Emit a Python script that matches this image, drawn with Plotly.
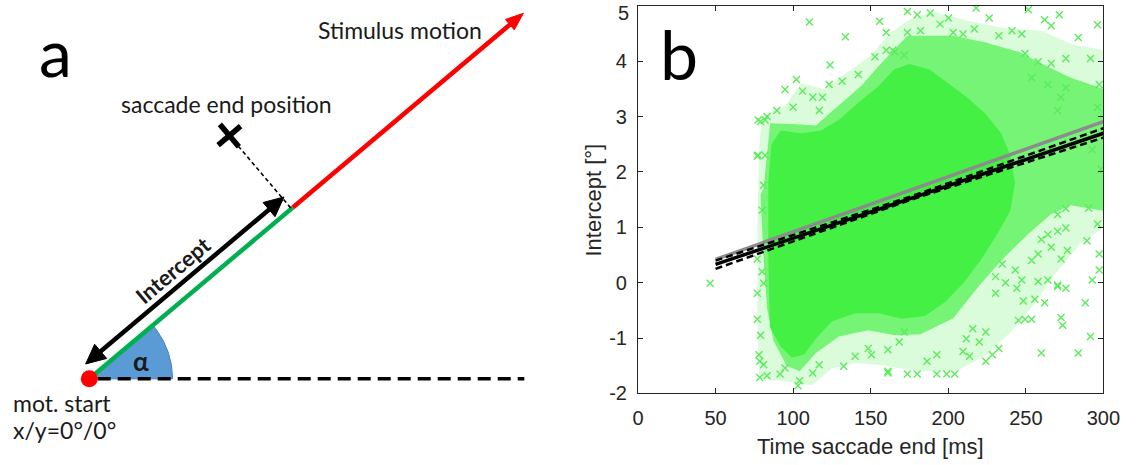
import math
import plotly.graph_objects as go

# ---------------- Panel b data ----------------
X_TICKS = [0, 50, 100, 150, 200, 250, 300]
X_TICK_LABELS = ["0", "50", "100", "150", "200", "250", "300"]
Y_TICKS = [-2, -1, 0, 1, 2, 3, 4, 5]
Y_TICK_LABELS = ["-2", "-1", "0", "1", "2", "3", "4", "5"]

# regression lines
TIME_GRAY = [50, 300]
INTERCEPT_GRAY = [0.42, 2.91]
TIME_FIT = [50, 175, 300]
INTERCEPT_FIT = [0.33, 1.515, 2.70]
INTERCEPT_CI_LOW = [0.25, 1.49, 2.62]
INTERCEPT_CI_HIGH = [0.40, 1.55, 2.79]

# outline of the densely packed core of the point cloud
CORE_TIME = [85, 84, 84, 86, 92, 105, 118, 130, 142, 155, 165, 175, 188, 200, 212, 224,
             234, 240, 243, 240, 232, 222, 210, 198, 185, 170, 155, 140, 125, 115, 107,
             99, 92]
CORE_INTERCEPT = [-0.8, 0.5, 1.8, 2.5, 2.75, 2.7, 2.75, 2.95, 3.25, 3.55, 3.85, 3.95,
                  3.85, 3.6, 3.35, 3.05, 2.7, 2.3, 1.8, 1.3, 0.9, 0.45, 0.0, -0.35, -0.6,
                  -0.65, -0.55, -0.55, -0.7, -1.0, -1.3, -1.35, -1.15]

# outline of the medium-density halo of the point cloud
MID_TIME = [87.4, 83.2, 81.0, 79.0, 81.0, 83.2, 85.2, 102.1, 114.7, 123.2, 133.7, 144.2,
            154.7, 165.4, 173.7, 182.1, 203.2, 224.2, 245.3, 266.4, 279, 300, 300, 279,
            266.4, 251.6, 234.8, 220.0, 203.2, 182.1, 165.4, 148.4, 129.5, 114.7, 104.2, 95.8]
MID_INTERCEPT = [-1.05, -0.46, 0.42, 1.59, 1.7, 2.35, 2.88, 2.86, 2.84, 3.05, 3.3, 3.56,
                 3.9, 4.22, 4.46, 4.46, 4.46, 4.34, 4.17, 3.87, 3.7, 3.5, 1.3, 1.4,
                 1.24, 0.88, 0.42, -0.05, -0.64, -0.93, -0.95, -0.86, -0.97, -1.27, -1.6, -1.5]

# outline of the sparse outskirts of the point cloud
OUTER_TIME = [78, 77, 77, 78, 80, 95, 105, 120, 135, 150, 162, 175, 190, 210, 235, 260,
              280, 300, 300, 285, 270, 255, 240, 225, 205, 180, 160, 140, 125, 112, 100, 85]
OUTER_INTERCEPT = [-1.7, -0.5, 1.0, 2.4, 3.0, 3.2, 3.6, 3.5, 3.8, 4.1, 4.5, 4.75, 4.9,
                   4.75, 4.6, 4.55, 4.3, 4.2, 1.0, 0.7, 0.2, -0.4, -0.9, -1.3, -1.6, -1.6,
                   -1.5, -1.45, -1.55, -1.85, -1.8, -1.75]

# individually visible (sparse) points
SCATTER_TIME = [
    110.5, 133.7, 155.8, 160.0, 123.8, 102.1, 106.1, 94.8, 79.0, 83.2, 76.8, 80.9, 152.7,
    160.0, 165.4, 142.0, 123.2, 131.6, 112.7, 118.9, 116.9, 89.5, 100.0,
    173.7, 180.0, 188.4, 200.1, 217.9, 226.4, 251.6, 262.1, 266.4, 271.6, 173.7, 182.1,
    194.7, 203.2, 209.5, 216.8, 232.6, 241.1, 247.4, 164.2, 171.6, 249.5, 257.9, 266.4,
    275.8, 253.7, 264.2, 272.6, 270.5, 275.8,
    296.2, 283.8, 291.7, 297.3, 296.2, 292.8, 298.5, 290.5, 296.2, 289.4, 297.3, 297.3,
    292.8, 288.3, 291.7, 283.8,
    260.0, 272.7, 273.7, 232.6, 228.4, 224.2, 173.7, 180.0, 192.6, 199.0, 204.2, 248.4,
    255.8, 262.1, 245.2, 249.5, 253.7, 270.5, 275.8, 236.9, 244.2, 230.5, 257.9, 264.2,
    270.5, 253.7, 257.9, 266.4, 272.7, 276.8, 270.5, 275.8, 260.0, 264.2, 270.5, 275.8,
    213.7, 209.5, 220.0, 224.2, 161.1, 186.3, 192.6, 215.8, 211.6, 230.5, 234.8, 243.2,
    247.4,
    103.1, 104.2, 81.0, 77.9, 79.0, 76.9, 76.9, 81.0, 80.0, 76.9, 80.0, 83.2, 91.6, 94.7,
    112.6, 116.8, 132.6, 140.0, 148.4, 161.1, 161.1, 150.5, 168.4, 171.6,
    77.4, 81.9, 77.4, 81.9, 78.5, 78.5,
    46.5,
]
SCATTER_INTERCEPT = [
    4.71, 4.44, 4.72, 4.52, 3.93, 3.67, 3.46, 3.49, 2.91, 3.0, 2.29, 1.76, 4.08,
    4.2, 4.17, 3.76, 3.58, 3.64, 3.35, 3.35, 3.11, 3.11, 3.17,
    4.9, 4.84, 4.87, 4.78, 4.96, 4.78, 4.93, 4.75, 4.64, 4.84, 4.52, 4.55,
    4.67, 4.52, 4.49, 4.58, 4.46, 4.55, 4.49, 4.2, 4.11, 4.14, 3.99, 3.96,
    4.05, 3.7, 3.58, 3.35, 3.11, 3.52,
    4.66, 4.43, 4.05, 3.58, 3.17, 2.40, 2.05, 1.35, 1.06, 0.76, 0.52, 0.23,
    0.05, -0.36, -0.97, -1.27,
    -1.27, -0.63, -0.77, -1.19, -1.30, -1.42, -1.65, -1.65, -1.65, -1.65, -1.65, -0.33,
    -0.30, -0.36, -0.68, -0.66, -0.66, -0.07, -0.10, 0.0, -0.10, -0.19, 0.02, 0.05,
    -0.04, 0.40, 0.52, 0.64, 0.43, 0.58, 0.93, 0.99, 0.78, 0.87, 1.23, 1.34,
    -1.33, -1.24, -1.07, -0.89, -1.60, -1.42, -1.30, -0.83, -1.01, 0.11, 0.34, 0.23,
    0.05,
    -1.86, -1.77, -1.48, -1.30, -0.95, -0.66, -0.19, -0.01, 0.20, 0.43, 1.31, -1.68, -1.65, -1.54,
    -1.63, -1.48, -1.51, -1.33, -1.19, -1.63, -1.21, -1.30, -1.07, -0.89,
    2.30, 2.30, 2.94, 2.94, -1.71, -1.42,
    -0.01,
]

# ---------------- Panel a (schematic) geometry ----------------
ALPHA_DEG = 40.2          # stimulus motion direction
INTERCEPT_LEN = 272       # projected saccade end along motion
STIM_LEN = 580            # length of stimulus motion arrow
SACC_ALONG = 270          # saccade end: along-motion component
SACC_PERP = 98            # saccade end: perpendicular component
ARROW_PERP = 14           # offset of the Intercept double arrow
ARROW_START = 7
WEDGE_R = 85
BASELINE_START, BASELINE_END = 8.6, 444

GREEN_SAT = "#45f045"
MARKER_GREEN = "#5aec5a"
AXIS_COL = "#262626"

a = math.radians(ALPHA_DEG)
DX, DY = math.cos(a), math.sin(a)
NX, NY = -math.sin(a), math.cos(a)


def pt(along, perp=0.0):
    return (along * DX + perp * NX, along * DY + perp * NY)


def head(tip_along, perp, back, length=18, half=8.5):
    tx, ty = pt(tip_along, perp)
    bx, by = pt(tip_along + back * length, perp)
    p1 = (bx + half * NX, by + half * NY)
    p2 = (bx - half * NX, by - half * NY)
    return [tx, p1[0], p2[0], tx], [ty, p1[1], p2[1], ty]


fig = go.Figure()
A = dict(xaxis="x2", yaxis="y2", showlegend=False, hoverinfo="skip")

# blue angle wedge
arc = [i * ALPHA_DEG / 40 for i in range(41)]
wx = [0] + [WEDGE_R * math.cos(math.radians(t)) for t in arc] + [0]
wy = [0] + [WEDGE_R * math.sin(math.radians(t)) for t in arc] + [0]
fig.add_trace(go.Scatter(x=wx, y=wy, mode="lines", fill="toself", fillcolor="#5B9BD5",
                         line=dict(color="#4A7EBB", width=1), **A))
# dashed horizontal baseline
fig.add_trace(go.Scatter(x=[BASELINE_START, BASELINE_END], y=[0, 0], mode="lines",
                         line=dict(color="black", width=3.5, dash="13px,7px"), **A))
# green intercept segment
g0, g1 = pt(0), pt(INTERCEPT_LEN)
fig.add_trace(go.Scatter(x=[g0[0], g1[0]], y=[g0[1], g1[1]], mode="lines",
                         line=dict(color="#00B050", width=4.5), **A))
# red stimulus motion
r0, r1 = pt(INTERCEPT_LEN), pt(STIM_LEN - 14)
fig.add_trace(go.Scatter(x=[r0[0], r1[0]], y=[r0[1], r1[1]], mode="lines",
                         line=dict(color="#FF0000", width=4.5), **A))
hx, hy = head(STIM_LEN, 0, -1, length=18, half=7)
fig.add_trace(go.Scatter(x=hx, y=hy, mode="lines", fill="toself", fillcolor="#FF0000",
                         line=dict(color="#FF0000", width=1), **A))
# red dot at motion start
fig.add_trace(go.Scatter(x=[0], y=[0], mode="markers",
                         marker=dict(color="#FF0000", size=17), **A))
# black double arrow (Intercept)
b0, b1 = pt(ARROW_START + 15, ARROW_PERP), pt(SACC_ALONG + 2 - 15, ARROW_PERP)
fig.add_trace(go.Scatter(x=[b0[0], b1[0]], y=[b0[1], b1[1]], mode="lines",
                         line=dict(color="black", width=4.5), **A))
for tip, back in ((ARROW_START, 1), (SACC_ALONG + 2, -1)):
    hx, hy = head(tip, ARROW_PERP, back, length=20, half=9.5)
    fig.add_trace(go.Scatter(x=hx, y=hy, mode="lines", fill="toself", fillcolor="black",
                             line=dict(color="black", width=1), **A))
# thin dashed projection line
s0, s1 = pt(SACC_ALONG, SACC_PERP - 7), pt(SACC_ALONG, 0)
fig.add_trace(go.Scatter(x=[s0[0], s1[0]], y=[s0[1], s1[1]], mode="lines",
                         line=dict(color="black", width=1.6, dash="4px,3px"), **A))
# saccade end cross
for da, dp in ((15, 0), (0, 15)):
    c0, c1 = pt(SACC_ALONG - da, SACC_PERP - dp), pt(SACC_ALONG + da, SACC_PERP + dp)
    fig.add_trace(go.Scatter(x=[c0[0], c1[0]], y=[c0[1], c1[1]], mode="lines",
                             line=dict(color="black", width=5.5), **A))

# ---------------- Panel b traces ----------------
B = dict(xaxis="x", yaxis="y", showlegend=False, hoverinfo="skip")
for tx, ty, col in ((OUTER_TIME, OUTER_INTERCEPT, "rgba(69,240,69,0.2)"),
                    (MID_TIME, MID_INTERCEPT, "rgba(69,240,69,0.68)"),
                    (CORE_TIME, CORE_INTERCEPT, GREEN_SAT)):
    fig.add_trace(go.Scatter(x=tx, y=ty, mode="lines", fill="toself", fillcolor=col,
                             line=dict(width=0, color="rgba(0,0,0,0)"), **B))
fig.add_trace(go.Scatter(x=SCATTER_TIME, y=SCATTER_INTERCEPT, mode="markers",
                         marker=dict(symbol="x-thin", size=7,
                                     line=dict(color=MARKER_GREEN, width=1.4)), **B))
fig.add_trace(go.Scatter(x=TIME_GRAY, y=INTERCEPT_GRAY, mode="lines",
                         line=dict(color="#8c8c8c", width=3.5), **B))
for ci in (INTERCEPT_CI_LOW, INTERCEPT_CI_HIGH):
    fig.add_trace(go.Scatter(x=TIME_FIT, y=ci, mode="lines",
                             line=dict(color="black", width=2.5, dash="7px,4px"), **B))
fig.add_trace(go.Scatter(x=TIME_FIT, y=INTERCEPT_FIT, mode="lines",
                         line=dict(color="black", width=3.5), **B))

# ---------------- Layout ----------------
TICK_FAMILY = "Liberation Sans, Arial, sans-serif"
tickfont = dict(family=TICK_FAMILY, size=20, color=AXIS_COL)
axis_common = dict(showline=True, linecolor=AXIS_COL, linewidth=1, mirror="ticks",
                   ticks="inside", ticklen=5, tickcolor=AXIS_COL, tickwidth=1,
                   showgrid=False, zeroline=False, tickfont=tickfont, fixedrange=True)
# the top y label ("5") sits on the paper edge, so it is drawn as an annotation
y_ticktext = [t if v != Y_TICKS[-1] else "" for v, t in zip(Y_TICKS, Y_TICK_LABELS)]
fig.update_layout(
    width=1140, height=465, autosize=False,
    margin=dict(l=0, r=0, t=0, b=0),
    paper_bgcolor="white", plot_bgcolor="white",
    xaxis=dict(domain=[645 / 1140, 1120 / 1140], range=[0, 300], tickvals=X_TICKS,
               ticktext=X_TICK_LABELS, anchor="y", ticklabelstandoff=7, **axis_common),
    yaxis=dict(domain=[1 - 403 / 465, 1 - 6 / 465], range=[-2, 5], tickvals=Y_TICKS,
               ticktext=y_ticktext, anchor="x", ticklabelstandoff=6, **axis_common),
    xaxis2=dict(domain=[0, 560 / 1140], range=[-85, 475], visible=False, anchor="y2",
                fixedrange=True),
    yaxis2=dict(domain=[0, 1], range=[-77, 388], visible=False, anchor="x2",
                fixedrange=True),
)

LATO = "Lato, Calibri, sans-serif"
TXT = "#1a1a1a"
ip = pt(137.8, 30)
ann = [
    dict(x=-34.5, y=335, xref="x2", yref="y2", text="a", font=dict(family=LATO, size=66, color="black")),
    dict(x=316.8, y=357.3, xref="x2", yref="y2", text="Stimulus motion", font=dict(family=LATO, size=23, color=TXT)),
    dict(x=139.8, y=281.3, xref="x2", yref="y2", text="saccade end position", font=dict(family=LATO, size=23, color=TXT)),
    dict(x=ip[0], y=ip[1], xref="x2", yref="y2", text="<b>Intercept</b>",
         textangle=-ALPHA_DEG, font=dict(family=LATO, size=22, color=TXT)),
    dict(x=52.5, y=18, xref="x2", yref="y2", text="<b>α</b>", font=dict(family=LATO, size=26, color=TXT)),
    dict(x=-79.5, y=-24.3, xref="x2", yref="y2", text="mot. start", xanchor="left", font=dict(family=LATO, size=23, color=TXT)),
    dict(x=-79.5, y=-52.7, xref="x2", yref="y2", text="x/y=0°/0°", xanchor="left", font=dict(family=LATO, size=23, color=TXT)),
    dict(x=687 / 1140, y=1 - 55 / 465, xref="paper", yref="paper", text="b",
         font=dict(family=LATO, size=68, color="black")),
    dict(x=(645 + 1120) / 2 / 1140, y=1 - 457 / 465, xref="paper", yref="paper",
         text="Time saccade end [ms]", font=dict(family=TICK_FAMILY, size=22, color=AXIS_COL)),
    dict(x=600 / 1140, y=1 - 204.5 / 465, xref="paper", yref="paper", text="Intercept [°]", textangle=-90,
         font=dict(family=TICK_FAMILY, size=22, color=AXIS_COL)),
    dict(x=0, y=Y_TICKS[-1], xref="x", yref="y", text=Y_TICK_LABELS[-1], xanchor="right",
         yanchor="top", xshift=-7, yshift=6, font=tickfont),
]
for d in ann:
    d.setdefault("xanchor", "center")
    d.setdefault("yanchor", "middle")
    d["showarrow"] = False
fig.update_layout(annotations=ann)

fig.write_html("out.html")
